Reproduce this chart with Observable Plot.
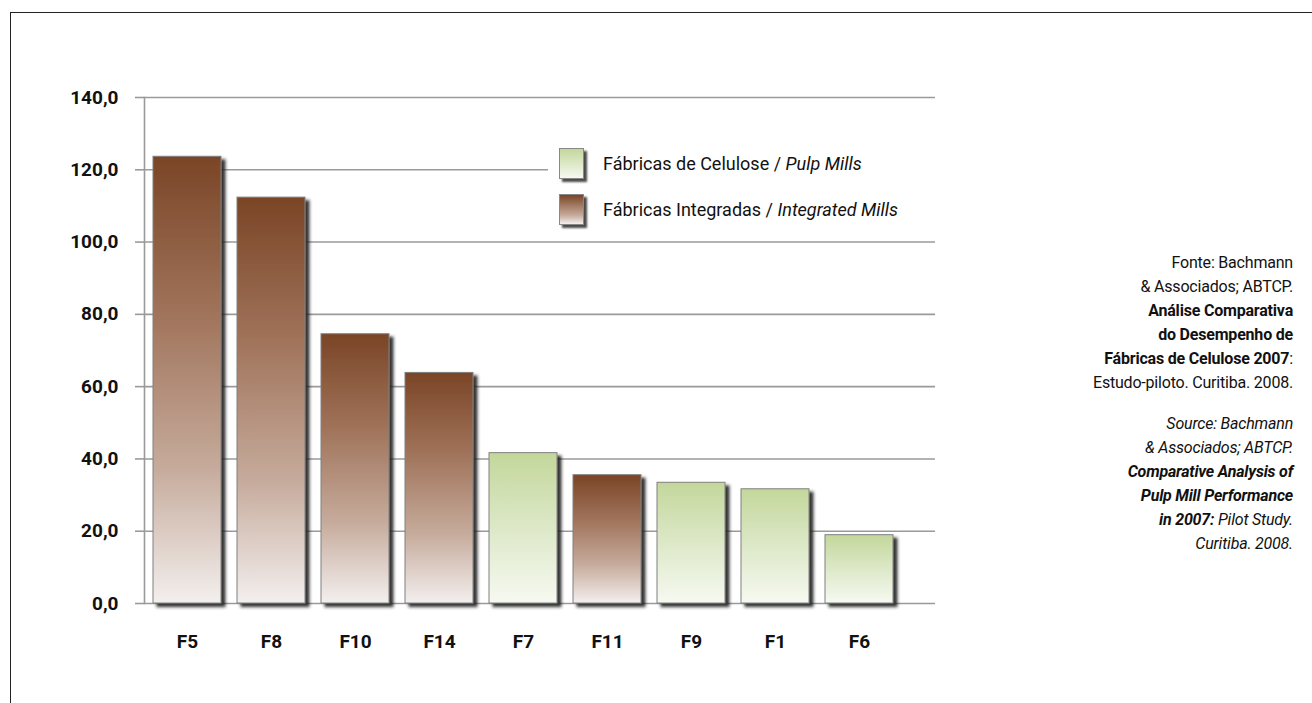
<!DOCTYPE html>
<html>
<head>
<meta charset="utf-8">
<script src="https://cdn.jsdelivr.net/npm/d3@7"></script>
<script src="https://cdn.jsdelivr.net/npm/@observablehq/plot@0.6"></script>
<style>
  html, body { margin: 0; padding: 0; background: #fff; width: 1312px; height: 703px; overflow: hidden; }
  body { position: relative; font-family: Roboto, "Liberation Sans", sans-serif; }
  #frame { position: absolute; left: 10px; top: 12px; width: 1400px; height: 800px; border-top: 1.5px solid #222; border-left: 1.5px solid #222; }
  #chart { position: absolute; left: 0; top: 0; }
  #legend { position: absolute; left: 548px; top: 140px; width: 400px; height: 94px; background: #fff; }
  .item { position: absolute; left: 11px; height: 33px; display: flex; align-items: center; }
  .sw { width: 25px; height: 31px; border: 1px solid #888; box-shadow: 3px 3px 2px rgba(30,30,30,0.8); box-sizing: border-box; }
  .lt { margin-left: 19px; font-size: 18px; color: #111; white-space: nowrap; }
  #source { position: absolute; right: 19px; top: 251px; text-align: right; font-size: 16px; line-height: 24px; color: #111; white-space: nowrap; letter-spacing: -0.2px; }
</style>
</head>
<body>
<div id="frame"></div>
<div id="chart"></div>
<div id="legend"></div>
<div id="source"></div>
<script>
const categories = ["F5", "F8", "F10", "F14", "F7", "F11", "F9", "F1", "F6"];
const values = [123.6, 112.3, 74.5, 63.8, 41.6, 35.5, 33.4, 31.6, 18.9];
const types = ["int", "int", "int", "int", "cel", "int", "cel", "cel", "cel"];
const yTicks = [0, 20, 40, 60, 80, 100, 120, 140];
const legendLabels = [
  ["cel", "Fábricas de Celulose / ", "Pulp Mills"],
  ["int", "Fábricas Integradas / ", "Integrated Mills"]
];
const sourceLines = [
  "Fonte: Bachmann",
  "&amp; Associados; ABTCP.",
  "<b>Análise Comparativa</b>",
  "<b>do Desempenho de</b>",
  "<b>Fábricas de Celulose 2007</b>:",
  "Estudo-piloto. Curitiba. 2008.",
  "<div style='height:17px'></div>",
  "<i>Source: Bachmann</i>",
  "<i>&amp; Associados; ABTCP.</i>",
  "<i><b>Comparative Analysis of</b></i>",
  "<i><b>Pulp Mill Performance</b></i>",
  "<i><b>in 2007:</b> Pilot Study.</i>",
  "<i>Curitiba. 2008.</i>"
];

const data = categories.map((c, i) => ({cat: c, value: values[i], type: types[i]}));
const fmt = d => d3.format(".1f")(d).replace(".", ",");

const defs = () => {
  const g = d3.create("svg:defs");
  const gb = g.append("linearGradient").attr("id", "gradInt").attr("x1", 0).attr("y1", 0).attr("x2", 0).attr("y2", 1);
  [[0, "#7a4526"], [0.35, "#a0735a"], [0.7, "#c6ab9c"], [1, "#f3efee"]].forEach(([o, c]) => gb.append("stop").attr("offset", o).attr("stop-color", c));
  const gg = g.append("linearGradient").attr("id", "gradCel").attr("x1", 0).attr("y1", 0).attr("x2", 0).attr("y2", 1);
  [[0, "#c3d79b"], [0.5, "#dde8c8"], [1, "#f6f9f1"]].forEach(([o, c]) => gg.append("stop").attr("offset", o).attr("stop-color", c));
  const f = g.append("filter").attr("id", "shadow").attr("x", "-20%").attr("y", "-10%").attr("width", "150%").attr("height", "130%");
  f.append("feDropShadow").attr("dx", 4).attr("dy", 3.5).attr("stdDeviation", 1.6).attr("flood-color", "#1a1a1a").attr("flood-opacity", 0.9);
  return g.node();
};

const plot = Plot.plot({
  width: 1000,
  height: 680,
  marginLeft: 144,
  marginRight: 65,
  marginTop: 97,
  marginBottom: 77,
  style: {fontFamily: "Roboto, 'Liberation Sans', sans-serif", background: "transparent"},
  x: {domain: categories, range: [144, 902], paddingInner: 0.19, paddingOuter: 0.095, label: null},
  y: {domain: [0, 140], label: null},
  marks: [
    defs,
    Plot.ruleY(yTicks, {stroke: "#9a9a9a", strokeWidth: 1.6}),
    Plot.axisY(yTicks, {tickSize: 9, tickPadding: 17, stroke: "#9a9a9a", strokeWidth: 1.6, tickFormat: fmt, fontSize: 19, fontWeight: "bold", fill: "#111", label: null}),
    Plot.axisX({tickSize: 0, tickPadding: 31, fontSize: 19, fontWeight: "bold", fill: "#111", label: null}),
    Plot.frame({anchor: "left", stroke: "#9a9a9a", strokeWidth: 1.6}),
    Plot.barY(data.filter(d => d.type === "int"), {x: "cat", y: "value", fill: "url(#gradInt)", stroke: "#808080", strokeWidth: 1, className: "bars"}),
    Plot.barY(data.filter(d => d.type === "cel"), {x: "cat", y: "value", fill: "url(#gradCel)", stroke: "#808080", strokeWidth: 1, className: "bars"})
  ]
});
d3.select(plot).selectAll("g.bars").attr("filter", "url(#shadow)");
document.getElementById("chart").appendChild(plot);

const legend = d3.select("#legend");
legendLabels.forEach(([t, a, b], i) => {
  const it = legend.append("div").attr("class", "item").style("top", (7 + i * 46) + "px");
  it.append("div").attr("class", "sw").style("background", t === "cel"
    ? "linear-gradient(#c3d79b, #f6f9f1)" : "linear-gradient(#7a4526, #c6ab9c 70%, #f3efee)");
  it.append("div").attr("class", "lt").html(a + "<i>" + b + "</i>");
});

document.getElementById("source").innerHTML = sourceLines.map(l => l.startsWith("<div") ? l : "<div>" + l + "</div>").join("");
</script>
</body>
</html>
